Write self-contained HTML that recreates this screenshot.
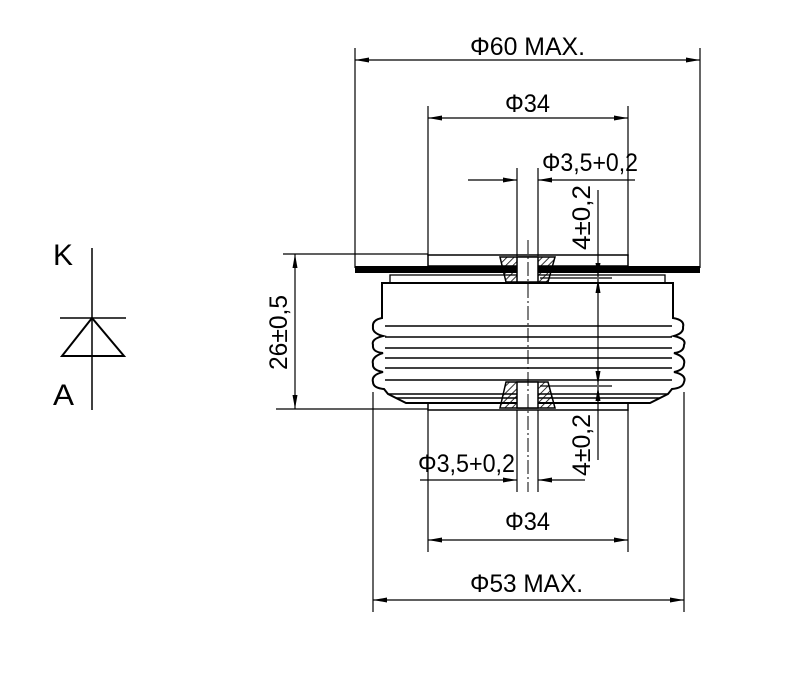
<!DOCTYPE html>
<html><head><meta charset="utf-8"><style>html,body{margin:0;padding:0;background:#fff}svg{display:block}</style></head><body>
<svg width="800" height="677" viewBox="0 0 800 677" xmlns="http://www.w3.org/2000/svg" font-family="Liberation Sans, sans-serif">
<defs>
<marker id="a" viewBox="0 0 10 10" refX="10" refY="5" markerWidth="14" markerHeight="5" markerUnits="userSpaceOnUse" orient="auto-start-reverse" preserveAspectRatio="none"><path d="M0,0L10,5L0,10z" fill="#000"/></marker>
<pattern id="h" width="5" height="5" patternUnits="userSpaceOnUse" patternTransform="rotate(45)"><line x1="0" y1="0" x2="0" y2="5" stroke="#000" stroke-width="1.6"/></pattern>
</defs>
<g stroke="#000" stroke-width="1.5" fill="none">
<line x1="92" y1="248" x2="92" y2="410"/>
<line x1="60" y1="318" x2="126" y2="318"/>
<path d="M92,318L62,356L124,356Z" stroke-width="2"/>
<line x1="355" y1="48" x2="355" y2="268" stroke-width="1.2"/>
<line x1="700" y1="48" x2="700" y2="268" stroke-width="1.2"/>
<line x1="428" y1="106" x2="428" y2="256" stroke-width="1.2"/>
<line x1="628" y1="106" x2="628" y2="256" stroke-width="1.2"/>
<line x1="517" y1="168" x2="517" y2="256" stroke-width="1.2"/>
<line x1="538" y1="168" x2="538" y2="256" stroke-width="1.2"/>
<line x1="373" y1="392" x2="373" y2="612" stroke-width="1.2"/>
<line x1="684" y1="392" x2="684" y2="612" stroke-width="1.2"/>
<line x1="428" y1="410" x2="428" y2="552" stroke-width="1.2"/>
<line x1="628" y1="410" x2="628" y2="552" stroke-width="1.2"/>
<line x1="517" y1="410" x2="517" y2="492" stroke-width="1.2"/>
<line x1="538" y1="410" x2="538" y2="492" stroke-width="1.2"/>
<line x1="283" y1="254" x2="428" y2="254" stroke-width="1.2"/>
<line x1="276" y1="409" x2="428" y2="409" stroke-width="1.2"/>
<line x1="540" y1="278" x2="612" y2="278" stroke-width="1.2"/>
<line x1="540" y1="386" x2="612" y2="386" stroke-width="1.2"/>
<g stroke-width="1.2">
<line x1="355" y1="60" x2="700" y2="60" marker-start="url(#a)" marker-end="url(#a)"/>
<line x1="428" y1="118" x2="628" y2="118" marker-start="url(#a)" marker-end="url(#a)"/>
<line x1="468" y1="180" x2="517" y2="180" marker-end="url(#a)"/>
<line x1="635" y1="180" x2="538" y2="180" marker-end="url(#a)"/>
<line x1="295" y1="254" x2="295" y2="409" marker-start="url(#a)" marker-end="url(#a)"/>
<line x1="598" y1="190" x2="598" y2="277" marker-end="url(#a)"/>
<line x1="598" y1="330" x2="598" y2="279" marker-end="url(#a)"/>
<line x1="598" y1="330" x2="598" y2="385" marker-end="url(#a)"/>
<line x1="598" y1="460" x2="598" y2="387" marker-end="url(#a)"/>
<line x1="420" y1="480" x2="517" y2="480" marker-end="url(#a)"/>
<line x1="585" y1="480" x2="538" y2="480" marker-end="url(#a)"/>
<line x1="428" y1="540" x2="628" y2="540" marker-start="url(#a)" marker-end="url(#a)"/>
<line x1="373" y1="600" x2="684" y2="600" marker-start="url(#a)" marker-end="url(#a)"/>
</g>
<rect x="428" y="255" width="200" height="11" stroke-width="1.5"/>
<path d="M355,266L700,266L700,273L355,273Z" fill="#000" stroke="none"/>
<rect x="390" y="275" width="275" height="8" stroke-width="1.3"/>
<path d="M382,283L673,283L673,318 Q685,320 683,327 Q684,333 674,336 Q687,339 684,345 Q684,352 674,353 Q686,357 684,364 Q684,370 674,372 Q687,375 684,382 Q683,388 672,389 L668,394 L660,398 L650,403 L406,403 L396,398 L388,394 L384,389 Q373,388 373,382 Q371,375 383,372 Q372,370 373,364 Q371,357 383,353 Q372,352 373,345 Q371,339 383,336 Q372,333 373,327 Q372,320 382,318 Z" stroke-width="2"/>
<g stroke-width="1.5">
<line x1="385" y1="326" x2="672" y2="326"/>
<line x1="385" y1="337" x2="672" y2="337"/>
<line x1="385" y1="348" x2="672" y2="348"/>
<line x1="385" y1="358" x2="672" y2="358"/>
<line x1="385" y1="368" x2="672" y2="368"/>
<line x1="385" y1="380" x2="672" y2="380"/>
<line x1="388" y1="394" x2="668" y2="394"/>
<line x1="396" y1="398" x2="660" y2="398"/>
</g>
<rect x="428" y="403" width="200" height="7" stroke-width="1.5"/>
<path d="M500,257L555,257L548,282L506,282Z" fill="url(#h)" stroke-width="1.5"/>
<rect x="517" y="257" width="21" height="25" fill="#fff" stroke-width="1.5"/>
<path d="M506,382L548,382L555,408L500,408Z" fill="url(#h)" stroke-width="1.5"/>
<rect x="517" y="382" width="21" height="26" fill="#fff" stroke-width="1.5"/>
<line x1="528" y1="240" x2="528" y2="492" stroke-width="1" stroke-dasharray="14,3,2,3"/>
</g>
<g fill="#000" font-size="25">
<text x="53" y="265" font-size="30" textLength="20" lengthAdjust="spacingAndGlyphs">K</text>
<text x="53" y="405" font-size="30" textLength="21" lengthAdjust="spacingAndGlyphs">A</text>
<text x="470" y="55" textLength="115" lengthAdjust="spacingAndGlyphs">Φ60 MAX.</text>
<text x="505" y="112" textLength="45" lengthAdjust="spacingAndGlyphs">Φ34</text>
<text x="542" y="171" textLength="96" lengthAdjust="spacingAndGlyphs">Φ3,5+0,2</text>
<text x="418" y="472" textLength="97" lengthAdjust="spacingAndGlyphs">Φ3,5+0,2</text>
<text x="505" y="530" textLength="45" lengthAdjust="spacingAndGlyphs">Φ34</text>
<text x="470" y="592" textLength="113" lengthAdjust="spacingAndGlyphs">Φ53 MAX.</text>
<text transform="translate(287,370) rotate(-90)" textLength="75" lengthAdjust="spacingAndGlyphs">26±0,5</text>
<text transform="translate(590,250) rotate(-90)" textLength="65" lengthAdjust="spacingAndGlyphs">4±0,2</text>
<text transform="translate(590,476) rotate(-90)" textLength="62" lengthAdjust="spacingAndGlyphs">4±0,2</text>
</g>
</svg>
</body></html>
